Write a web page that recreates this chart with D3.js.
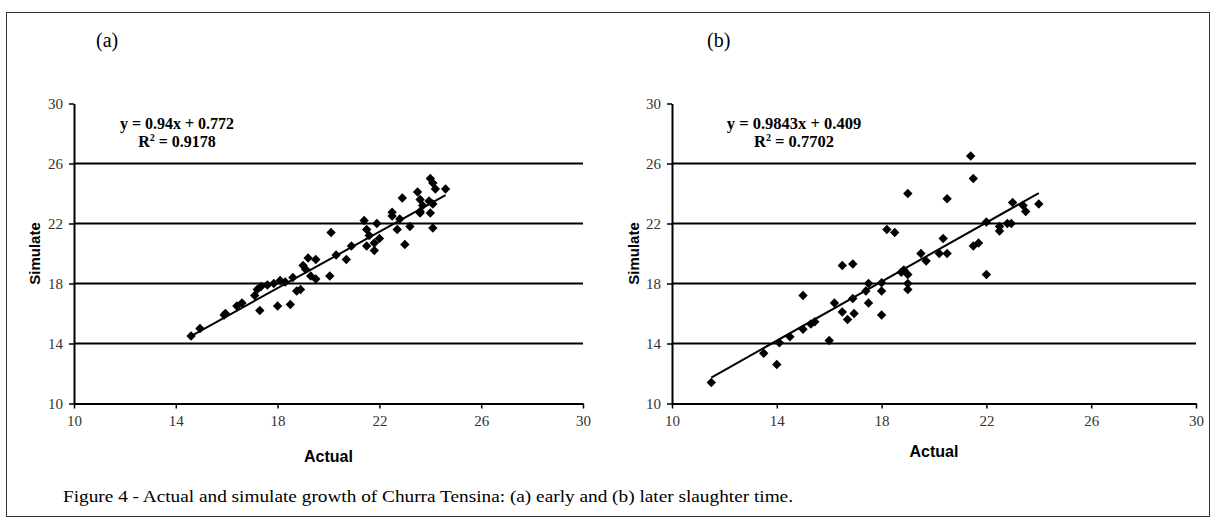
<!DOCTYPE html>
<html>
<head>
<meta charset="utf-8">
<script src="https://cdn.jsdelivr.net/npm/d3@7"></script>
<style>
  body { margin: 0; background: #fff; }
  svg { display: block; }
</style>
</head>
<body>
<div id="chart"></div>
<script>
// Panel (a) - early slaughter time
const actualA = [14.6, 14.95, 15.9, 15.95, 16.4, 16.6, 17.1, 17.2, 17.3, 17.35, 17.6, 17.85, 18.0, 18.1, 18.3,
    18.5, 18.6, 18.75, 18.9, 19.0, 19.1, 19.2, 19.3, 19.5, 19.5, 20.05, 20.1, 20.3, 20.7, 20.9,
    21.4, 21.5, 21.5, 21.6, 21.8, 21.8, 21.9, 22.0, 22.5, 22.5, 22.7, 22.8, 22.9, 23.0, 23.2,
    23.5, 23.6, 23.6, 23.6, 23.7, 23.95, 24.0, 24.0, 24.1, 24.1, 24.1, 24.2, 24.6];
const simulateA = [14.5, 15.0, 15.9, 16.0, 16.5, 16.7, 17.2, 17.6, 16.2, 17.8, 17.9, 18.0, 16.5, 18.2, 18.1,
    16.6, 18.4, 17.5, 17.6, 19.2, 18.95, 19.7, 18.5, 19.6, 18.3, 18.5, 21.4, 19.9, 19.6, 20.5,
    22.2, 21.6, 20.5, 21.2, 20.7, 20.2, 22.0, 21.0, 22.75, 22.5, 21.6, 22.3, 23.7, 20.6, 21.8,
    24.1, 23.6, 22.8, 22.7, 23.2, 23.5, 25.0, 22.7, 24.7, 23.3, 21.7, 24.3, 24.3];

// Panel (b) - later slaughter time
const actualB = [11.5, 13.5, 14.0, 14.1, 14.5, 15.0, 15.3, 15.45, 16.0, 15.0, 16.2, 16.5, 16.7, 16.95, 16.9,
    17.5, 18.0, 16.5, 16.9, 17.5, 17.4, 18.0, 18.0, 18.2, 18.5, 18.75, 18.85, 19.0, 19.0, 19.0,
    19.0, 19.5, 19.7, 20.2, 20.5, 20.35, 20.5, 21.4, 21.5, 21.5, 21.7, 22.0, 22.0, 22.5, 22.5,
    22.8, 22.95, 23.0, 23.4, 23.5, 24.0];
const simulateB = [11.4, 13.35, 12.6, 14.05, 14.45, 14.95, 15.3, 15.45, 14.2, 17.2, 16.7, 16.1, 15.6, 16.0, 17.0,
    16.7, 15.9, 19.2, 19.3, 18.0, 17.5, 18.05, 17.5, 21.6, 21.4, 18.75, 18.9, 18.6, 18.0, 17.6,
    24.0, 20.0, 19.5, 20.0, 20.0, 21.0, 23.65, 26.5, 25.0, 20.5, 20.7, 22.1, 18.6, 21.8, 21.5,
    22.0, 22.0, 23.4, 23.2, 22.8, 23.3];

const tickValues = [10, 14, 18, 22, 26, 30];
const gridValues = [14, 18, 22, 26];
const panelLabels = ["(a)", "(b)"];
const equations = ["y = 0.94x + 0.772", "y = 0.9843x + 0.409"];
const r2Values = ["0.9178", "0.7702"];
const slopes = [0.94, 0.9843];
const intercepts = [0.772, 0.409];
const caption = "Figure 4 - Actual and simulate growth of Churra Tensina: (a) early and (b) later slaughter time.";

const width = 1216;
const height = 523;

const svg = d3.select("#chart")
    .append("svg")
    .attr("width", width)
    .attr("height", height);

svg.append("rect")
    .attr("x", 6.5).attr("y", 12.5)
    .attr("width", 1203).attr("height", 504)
    .attr("fill", "none")
    .attr("stroke", "#333")
    .attr("stroke-width", 1);

const panels = [
    { xs: actualA, ys: simulateA, left: 74, right: 583, labelX: 96, eqX: 177, simX: 40, actualY: 462 },
    { xs: actualB, ys: simulateB, left: 672, right: 1196, labelX: 707, eqX: 794, simX: 639, actualY: 457 }
];

const plotTop = 103.5, plotBottom = 403.5;
const serif = "'Liberation Serif', 'Times New Roman', serif";
const sans = "'Liberation Sans', Arial, sans-serif";

panels.forEach((p, i) => {
    const x = d3.scaleLinear().domain([10, 30]).range([p.left, p.right]);
    const y = d3.scaleLinear().domain([10, 30]).range([plotBottom, plotTop]);

    const g = svg.append("g");

    // horizontal gridlines
    g.selectAll("line.grid")
        .data(gridValues)
        .join("line")
        .attr("class", "grid")
        .attr("x1", p.left).attr("x2", p.right)
        .attr("y1", d => y(d)).attr("y2", d => y(d))
        .attr("stroke", "#000")
        .attr("stroke-width", 2);

    // axes
    const xAxis = g.append("g")
        .attr("transform", `translate(0,${plotBottom})`)
        .call(d3.axisBottom(x).tickValues(tickValues).tickSize(5).tickSizeOuter(0).tickPadding(7));
    const yAxis = g.append("g")
        .attr("transform", `translate(${p.left},0)`)
        .call(d3.axisLeft(y).tickValues(tickValues).tickSize(5).tickSizeOuter(0).tickPadding(6));

    [xAxis, yAxis].forEach(a => {
        a.select(".domain").attr("stroke", "#000").attr("stroke-width", 2);
        a.selectAll(".tick line").attr("stroke", "#000").attr("stroke-width", 1.5);
        a.selectAll(".tick text")
            .attr("fill", "#333")
            .style("font-family", serif)
            .style("font-size", "15px");
    });

    // regression line
    const xMin = d3.min(p.xs), xMax = d3.max(p.xs);
    g.append("line")
        .attr("x1", x(xMin)).attr("y1", y(slopes[i] * xMin + intercepts[i]))
        .attr("x2", x(xMax)).attr("y2", y(slopes[i] * xMax + intercepts[i]))
        .attr("stroke", "#000")
        .attr("stroke-width", 2);

    // points
    const diamond = d3.symbol().type(d3.symbolSquare).size(44);
    g.selectAll("path.pt")
        .data(p.xs.map((v, k) => [v, p.ys[k]]))
        .join("path")
        .attr("class", "pt")
        .attr("d", diamond)
        .attr("transform", d => `translate(${x(d[0])},${y(d[1])}) rotate(45)`)
        .attr("fill", "#000");

    // panel label
    g.append("text")
        .attr("x", p.labelX).attr("y", 47)
        .text(panelLabels[i])
        .style("font-family", serif)
        .style("font-size", "20px");

    // equation
    const eq = g.append("text")
        .attr("text-anchor", "middle")
        .style("font-family", serif)
        .style("font-size", i === 0 ? "16px" : "16.5px")
        .style("font-weight", "bold");
    eq.append("tspan").attr("x", p.eqX).attr("y", 129).text(equations[i]);
    const r2 = eq.append("tspan").attr("x", p.eqX).attr("y", 147);
    r2.append("tspan").text("R");
    r2.append("tspan").attr("dy", -6).style("font-size", "10px").text("2");
    r2.append("tspan").attr("dy", 6).text(" = " + r2Values[i]);

    // axis titles
    g.append("text")
        .attr("x", (p.left + p.right) / 2).attr("y", p.actualY)
        .attr("text-anchor", "middle")
        .text("Actual")
        .style("font-family", sans)
        .style("font-size", "16px")
        .style("font-weight", "bold");

    g.append("text")
        .attr("transform", `translate(${p.simX},${(plotTop + plotBottom) / 2}) rotate(-90)`)
        .attr("text-anchor", "middle")
        .text("Simulate")
        .style("font-family", sans)
        .style("font-size", "15px")
        .style("font-weight", "bold");
});

svg.append("text")
    .attr("x", 63).attr("y", 502)
    .attr("textLength", 730)
    .attr("lengthAdjust", "spacingAndGlyphs")
    .text(caption)
    .style("font-family", serif)
    .style("font-size", "17px");
</script>
</body>
</html>
